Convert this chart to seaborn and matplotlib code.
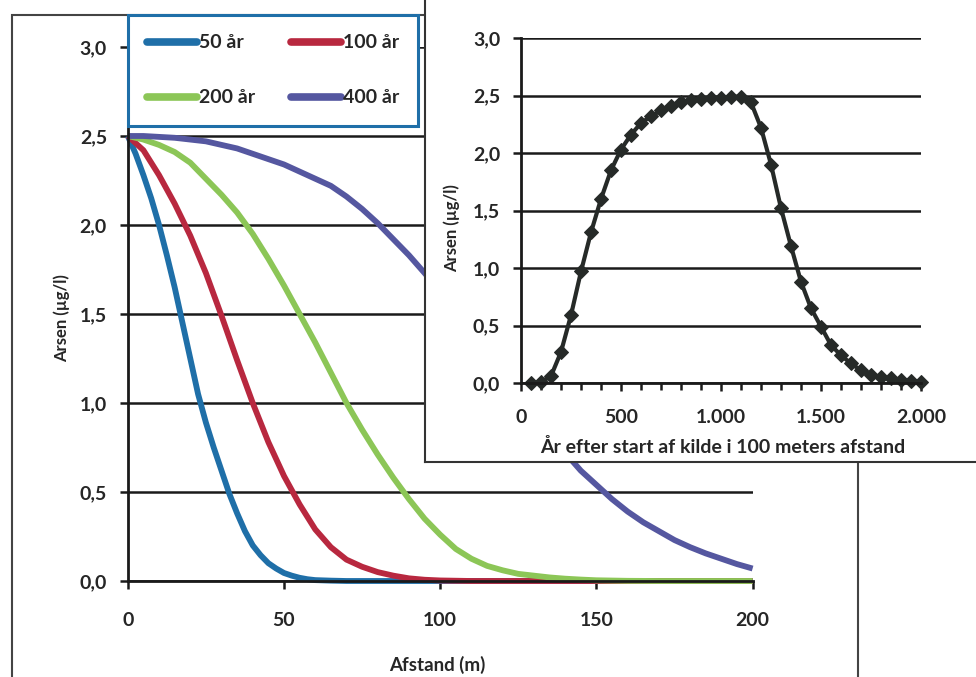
import matplotlib
matplotlib.use("Agg")
import matplotlib.pyplot as plt
from matplotlib.patches import Rectangle
from matplotlib.lines import Line2D
from matplotlib.ticker import FuncFormatter, MultipleLocator
import pandas as pd
import seaborn as sns

# ---------------- data ----------------
series_names = ["50 år", "100 år", "200 år", "400 år"]
series_colors = ["#1f6fa8", "#b8283f", "#8cc657", "#5557a0"]

x_50 = [0, 2.5, 5, 7.5, 10, 12.5, 15, 17.5, 20, 22.5, 25, 27.5, 30, 32.5, 35, 37.5, 40, 42.5, 45,
        47.5, 50, 52.5, 55, 57.5, 60, 65, 70, 100, 150, 200]
y_50 = [2.50, 2.40, 2.28, 2.15, 2.00, 1.83, 1.65, 1.45, 1.25, 1.05, 0.89, 0.75, 0.62, 0.49, 0.38,
        0.28, 0.20, 0.145, 0.10, 0.07, 0.045, 0.03, 0.018, 0.01, 0.005, 0.002, 0.0, 0.0, 0.0, 0.0]

x_100 = [0, 5, 10, 15, 20, 25, 30, 35, 40, 45, 50, 55, 60, 65, 70, 75, 80, 85, 90, 95, 100, 110,
         150, 200]
y_100 = [2.50, 2.42, 2.28, 2.12, 1.94, 1.73, 1.49, 1.24, 1.00, 0.78, 0.59, 0.43, 0.29, 0.19, 0.12,
         0.08, 0.05, 0.03, 0.015, 0.007, 0.003, 0.0, 0.0, 0.0]

x_200 = [0, 5, 10, 15, 20, 25, 30, 35, 40, 45, 50, 55, 60, 65, 70, 75, 80, 85, 90, 95, 100, 105,
         110, 115, 120, 125, 130, 135, 140, 145, 150, 160, 170, 200]
y_200 = [2.50, 2.48, 2.45, 2.41, 2.35, 2.26, 2.17, 2.07, 1.95, 1.81, 1.66, 1.50, 1.34, 1.17, 1.00,
         0.85, 0.71, 0.58, 0.46, 0.35, 0.26, 0.18, 0.125, 0.085, 0.06, 0.04, 0.03, 0.02, 0.013,
         0.008, 0.004, 0.001, 0.0, 0.0]

x_400 = [0, 5, 10, 15, 20, 25, 30, 35, 40, 45, 50, 55, 60, 65, 70, 75, 80, 85, 90, 95, 100, 105,
         110, 115, 120, 125, 130, 135, 140, 145, 150, 155, 160, 165, 170, 175, 180, 185, 190, 195, 200]
y_400 = [2.50, 2.50, 2.495, 2.49, 2.48, 2.47, 2.45, 2.43, 2.40, 2.37, 2.34, 2.30, 2.26, 2.22, 2.16,
         2.09, 2.01, 1.92, 1.83, 1.73, 1.63, 1.52, 1.41, 1.29, 1.17, 1.05, 0.94, 0.83, 0.72, 0.62,
         0.54, 0.46, 0.39, 0.33, 0.28, 0.23, 0.19, 0.155, 0.125, 0.095, 0.07]

inset_years = [50, 100, 150, 200, 250, 300, 350, 400, 450, 500, 550, 600, 650, 700, 750, 800, 850, 900,
               950, 1000, 1050, 1100, 1150, 1200, 1250, 1300, 1350, 1400, 1450, 1500, 1550, 1600, 1650,
               1700, 1750, 1800, 1850, 1900, 1950, 2000]
inset_conc = [0.0, 0.01, 0.06, 0.27, 0.59, 0.97, 1.31, 1.60, 1.85, 2.03, 2.16, 2.26, 2.32, 2.37, 2.41,
              2.44, 2.46, 2.47, 2.48, 2.48, 2.49, 2.49, 2.44, 2.22, 1.90, 1.52, 1.19, 0.88, 0.65, 0.49,
              0.33, 0.24, 0.17, 0.11, 0.07, 0.05, 0.04, 0.03, 0.02, 0.01]

main_xticks = [0, 50, 100, 150, 200]
y_ticks = [0.0, 0.5, 1.0, 1.5, 2.0, 2.5, 3.0]
inset_xticks = [0, 500, 1000, 1500, 2000]

ylabel_text = "Arsen (µg/l)"
main_xlabel = "Afstand (m)"
inset_xlabel = "År efter start af kilde i 100 meters afstand"

# ---------------- style ----------------
sns.set_style("white")
plt.rcParams["font.family"] = ["Lato", "DejaVu Sans"]
plt.rcParams["font.weight"] = "bold"

W, H = 976, 677
fig = plt.figure(figsize=(W / 100, H / 100), dpi=100)


def fx(px):
    return px / W


def fy(py):
    return 1 - py / H


comma_fmt = FuncFormatter(lambda v, p: f"{v:.1f}".replace(".", ","))
INK = "#1a1a1a"

# outer chart frame
fig.patches.append(Rectangle((fx(12), fy(690)), fx(858) - fx(12), fy(15) - fy(690),
                             transform=fig.transFigure, fill=False, edgecolor="#444444",
                             linewidth=1.5, zorder=0))

# ---------------- main axes ----------------
ax = fig.add_axes([fx(127.8), fy(581), fx(752.6) - fx(127.8), fy(47) - fy(581)])
ax.set_zorder(1)

frames = []
for name, xs, ys in zip(series_names, [x_50, x_100, x_200, x_400], [y_50, y_100, y_200, y_400]):
    frames.append(pd.DataFrame({"Afstand": xs, "Arsen": ys, "Serie": name}))
df = pd.concat(frames, ignore_index=True)

sns.lineplot(data=df, x="Afstand", y="Arsen", hue="Serie", hue_order=series_names,
             palette=series_colors, linewidth=4.2, estimator=None, sort=True, ax=ax, legend=False)
for ln in ax.get_lines():
    ln.set_clip_on(False)
    ln.set_solid_capstyle("butt")
    ln.set_solid_joinstyle("round")

ax.set_xlim(0, 200)
ax.set_ylim(0, 3)
ax.set_xticks(main_xticks)
ax.set_yticks(y_ticks)
ax.yaxis.set_major_formatter(comma_fmt)
ax.grid(axis="y", color=INK, linewidth=1.8)
ax.grid(axis="x", visible=False)
ax.set_axisbelow(True)
for s in ["top", "right"]:
    ax.spines[s].set_visible(False)
for s in ["left", "bottom"]:
    ax.spines[s].set_color(INK)
    ax.spines[s].set_linewidth(2)
ax.tick_params(axis="both", which="major", direction="out", length=6, width=1.8,
               color=INK, labelsize=14, pad=9, left=True, bottom=True)
ax.tick_params(axis="x", pad=16)
for t in ax.get_xticklabels() + ax.get_yticklabels():
    t.set_fontweight("bold")
ax.set_xlabel("")
ax.set_ylabel("")
fig.text(fx(437), fy(665), main_xlabel, ha="center", va="center", fontsize=13.5, fontweight="bold")
fig.text(fx(62), fy(318), ylabel_text, ha="center", va="center", rotation=90, fontsize=12,
         fontweight="bold")

# legend (row-wise order: 50, 100 / 200, 400)
handles = [Line2D([0], [0], color=c, linewidth=5.5) for c in series_colors]
order = [0, 2, 1, 3]
leg = ax.legend([handles[i] for i in order], [series_names[i] for i in order],
                loc="upper left", ncol=2,
                bbox_to_anchor=(fx(128), fy(15)), bbox_transform=fig.transFigure,
                frameon=True, fancybox=False, framealpha=1, borderpad=1.0,
                handlelength=2.55, handletextpad=0.1, columnspacing=1.85, labelspacing=1.95,
                prop={"size": 14, "weight": "bold"}, borderaxespad=0)
leg.get_frame().set_edgecolor("#1f6fa8")
leg.get_frame().set_linewidth(2.2)
leg.set_zorder(5)

# ---------------- inset box ----------------
box = fig.add_axes([fx(425), fy(462), fx(980) - fx(425), fy(-5) - fy(462)])
box.set_zorder(3)
box.set_facecolor("white")
box.set_xticks([])
box.set_yticks([])
for s in ["top", "right"]:
    box.spines[s].set_visible(False)
for s in ["left", "bottom"]:
    box.spines[s].set_color("#333333")
    box.spines[s].set_linewidth(1.5)

# ---------------- inset axes ----------------
ins = fig.add_axes([fx(521), fy(383), fx(921) - fx(521), fy(38) - fy(383)])
ins.set_zorder(4)
ins.patch.set_alpha(0)
sns.lineplot(x=inset_years, y=inset_conc, color="#262a28", linewidth=3.0, marker="D",
             markersize=7, markeredgecolor="#262a28", ax=ins, estimator=None)
for ln in ins.get_lines():
    ln.set_clip_on(False)
ins.set_xlim(0, 2000)
ins.set_ylim(0, 3)
ins.set_xticks(inset_xticks)
ins.xaxis.set_minor_locator(MultipleLocator(100))
ins.xaxis.set_major_formatter(FuncFormatter(lambda v, p: f"{int(round(v)):,}".replace(",", ".")))
ins.set_yticks(y_ticks)
ins.yaxis.set_major_formatter(comma_fmt)
ins.grid(axis="y", color=INK, linewidth=1.8)
ins.grid(axis="x", visible=False)
ins.set_axisbelow(True)
for s in ["top", "right"]:
    ins.spines[s].set_visible(False)
for s in ["left", "bottom"]:
    ins.spines[s].set_color(INK)
    ins.spines[s].set_linewidth(2)
ins.tick_params(axis="both", which="major", direction="out", length=6, width=1.8,
                color=INK, labelsize=14, pad=9, left=True, bottom=True)
ins.tick_params(axis="x", which="minor", direction="out", length=5, width=1.8,
                color=INK, bottom=True)
ins.tick_params(axis="x", which="major", pad=13)
for t in ins.get_xticklabels() + ins.get_yticklabels():
    t.set_fontweight("bold")
ins.set_xlabel("")
ins.set_ylabel("")
fig.text(fx(723), fy(447), inset_xlabel, ha="center", va="center", fontsize=14,
         fontweight="bold", zorder=6)
fig.text(fx(452), fy(228), ylabel_text, ha="center", va="center", rotation=90, fontsize=12,
         fontweight="bold", zorder=6)

fig.savefig("out.png", dpi=100, facecolor="white")
